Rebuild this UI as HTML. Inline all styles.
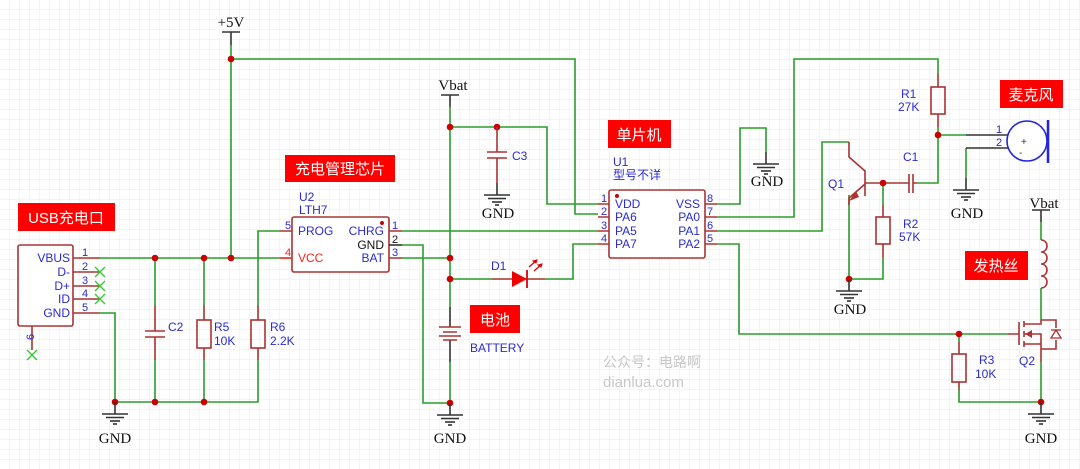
<!DOCTYPE html>
<html><head><meta charset="utf-8"><style>
html,body{margin:0;padding:0;background:#fff}
svg{display:block}
.w{stroke:#2a9d2a;stroke-width:1.6;fill:none}
.c{stroke:#a33;stroke-width:1.6;fill:none}
.k{stroke:#333;stroke-width:1.6;fill:none}
.t{font-family:"Liberation Sans",sans-serif;font-size:12px;fill:#2b2bd0}
.n{font-family:"Liberation Sans",sans-serif;font-size:11px;fill:#2b2bd0}
.s{font-family:"Liberation Serif",serif;font-size:15px;fill:#111}
.lb{font-family:"Liberation Sans","Noto Sans CJK SC",sans-serif;font-size:15px;fill:#fff}
.d{fill:#c00}
.lr{fill:#f00}
</style></head><body>
<svg width="1080" height="469" viewBox="0 0 1080 469" xmlns="http://www.w3.org/2000/svg">
<defs>
<pattern id="g" width="10" height="10" patternUnits="userSpaceOnUse"><path d="M10 0V10H0" fill="none" stroke="#eaeaea" stroke-width="1"/></pattern>
<g id="gnd"><line class="k" x1="0" y1="0" x2="0" y2="12"/><line class="k" x1="-13" y1="12" x2="13" y2="12"/><line class="k" x1="-9" y1="15.5" x2="9" y2="15.5"/><line class="k" x1="-5" y1="19" x2="5" y2="19"/><line class="k" x1="-2" y1="22" x2="2" y2="22" stroke-width="1"/></g>
</defs>
<rect width="1080" height="469" fill="url(#g)"/>

<rect class="lr" x="18" y="203" width="97" height="28"/><text class="lb" x="66" y="223" text-anchor="middle">USB充电口</text>
<rect class="lr" x="285" y="155" width="110" height="27"/><text class="lb" x="340" y="174" text-anchor="middle">充电管理芯片</text>
<rect class="lr" x="608" y="120" width="63" height="28"/><text class="lb" x="639" y="140" text-anchor="middle">单片机</text>
<rect class="lr" x="470" y="305" width="50" height="28"/><text class="lb" x="495" y="325" text-anchor="middle">电池</text>
<rect class="lr" x="1000" y="80" width="63" height="28"/><text class="lb" x="1031" y="100" text-anchor="middle">麦克风</text>
<rect class="lr" x="965" y="251" width="63" height="29"/><text class="lb" x="996" y="271" text-anchor="middle">发热丝</text>

<text class="s" x="231" y="27" text-anchor="middle">+5V</text>
<line class="k" x1="222" y1="32" x2="240" y2="32"/><line class="k" x1="231" y1="32" x2="231" y2="45"/>
<path class="w" d="M231 45V258M231 59H575V214H598"/>

<rect x="18" y="245" width="55" height="81" rx="2" fill="#fff" stroke="#a33" stroke-width="1.6"/>
<text class="t" x="70" y="262" text-anchor="end">VBUS</text>
<text class="t" x="70" y="276" text-anchor="end">D-</text>
<text class="t" x="70" y="290" text-anchor="end">D+</text>
<text class="t" x="70" y="303" text-anchor="end">ID</text>
<text class="t" x="70" y="317" text-anchor="end">GND</text>
<path class="c" d="M73 258H100M73 272H100M73 286H100M73 299H100M73 313H100M32 326V350"/>
<text class="n" x="82" y="256">1</text><text class="n" x="82" y="270">2</text><text class="n" x="82" y="284">3</text><text class="n" x="82" y="297">4</text><text class="n" x="82" y="311">5</text>
<text class="n" x="0" y="0" transform="translate(34,340) rotate(-90)">6</text>
<path d="M95 267l10 10M105 267l-10 10M95 281l10 10M105 281l-10 10M95 294l10 10M105 294l-10 10M27 350l10 10M37 350l-10 10" stroke="#3c3" stroke-width="1.4" fill="none"/>

<path class="w" d="M100 258H292M100 313H115V402H258V360M258 305V231H280"/>
<path class="w" d="M155 258V305M155 360V402M204 258V305M204 360V402"/>
<path class="c" d="M155 305V331M155 337V360M145 331H165M145 337H165"/>
<text class="t" x="168" y="331">C2</text>
<path class="c" d="M204 305V320M204 348V360M258 305V320M258 348V360"/>
<rect x="197" y="320" width="14" height="28" fill="none" stroke="#a33" stroke-width="1.6"/>
<rect x="251" y="320" width="14" height="28" fill="none" stroke="#a33" stroke-width="1.6"/>
<text class="t" x="214" y="331">R5</text><text class="t" x="214" y="345">10K</text>
<text class="t" x="270" y="331">R6</text><text class="t" x="270" y="345">2.2K</text>
<circle class="d" cx="155" cy="258" r="3.3"/><circle class="d" cx="204" cy="258" r="3.3"/><circle class="d" cx="231" cy="258" r="3.3"/><circle class="d" cx="231" cy="59" r="3.3"/>
<circle class="d" cx="115" cy="402" r="3.3"/><circle class="d" cx="155" cy="402" r="3.3"/><circle class="d" cx="204" cy="402" r="3.3"/>
<use href="#gnd" x="115" y="402"/><text class="s" x="115" y="443" text-anchor="middle">GND</text>

<text class="t" x="299" y="201">U2</text><text class="t" x="299" y="214">LTH7</text>
<rect x="292" y="217" width="97" height="55" rx="2" fill="#fff" stroke="#a33" stroke-width="1.6"/>
<circle class="d" cx="382" cy="223" r="2"/>
<path class="c" d="M280 231H292M389 231H402M389 258H402"/><path d="M280 258H292" stroke="#f33" stroke-width="1.6"/><path class="k" d="M389 245H402"/>
<text class="t" x="298" y="235">PROG</text><text x="298" y="262" font-family="Liberation Sans,sans-serif" font-size="12" fill="#f22">VCC</text>
<text class="t" x="384" y="235" text-anchor="end">CHRG</text><text x="384" y="249" text-anchor="end" font-family="Liberation Sans,sans-serif" font-size="12" fill="#111">GND</text><text class="t" x="384" y="262" text-anchor="end">BAT</text>
<text class="n" x="285" y="229">5</text><text x="285" y="256" font-family="Liberation Sans,sans-serif" font-size="11" fill="#f22">4</text>
<text class="n" x="392" y="229">1</text><text x="392" y="243" font-family="Liberation Sans,sans-serif" font-size="11" fill="#111">2</text><text class="n" x="392" y="256">3</text>

<path class="w" d="M402 231H598M402 245H423V403H450M402 258H450"/>

<text class="s" x="453" y="90" text-anchor="middle">Vbat</text>
<line class="k" x1="441" y1="95" x2="459" y2="95"/><line class="k" x1="450" y1="95" x2="450" y2="107"/>
<path class="w" d="M450 107V307M450 362V403M450 127H547V204H598M450 279H492M545 279H573V244H598"/>
<path class="k" d="M450 307V327M450 340V362"/>
<path class="c" d="M439 327H461M443 332H457M439 336H461M443 340H457"/>
<text class="t" x="470" y="352">BATTERY</text>
<circle class="d" cx="450" cy="127" r="3.3"/><circle class="d" cx="497" cy="127" r="3.3"/><circle class="d" cx="450" cy="258" r="3.3"/><circle class="d" cx="450" cy="279" r="3.3"/><circle class="d" cx="450" cy="403" r="3.3"/>
<use href="#gnd" x="450" y="403"/><text class="s" x="450" y="443" text-anchor="middle">GND</text>
<path class="c" d="M497 127V152M497 158V183M487 152H507M487 158H507"/>
<text class="t" x="512" y="160">C3</text>
<use href="#gnd" x="497" y="183"/><text class="s" x="498" y="218" text-anchor="middle">GND</text>
<path class="c" d="M492 279H512M527 279H545"/>
<path d="M512 271L527 279L512 287Z" fill="#e00"/><line x1="527" y1="270" x2="527" y2="288" stroke="#d00" stroke-width="1.8"/>
<path d="M529 267l8 -7M534 271l8 -7" stroke="#d00" stroke-width="1.3"/><path d="M537 260l-4 1l3 2zM542 264l-4 1l3 2z" fill="#d00" stroke="#d00"/>
<text class="t" x="491" y="270">D1</text>

<text class="t" x="613" y="166">U1</text><text x="613" y="179" font-family="Liberation Sans,'Noto Sans CJK SC',sans-serif" font-size="12" fill="#2b2bd0">型号不详</text>
<rect x="609" y="190" width="96" height="68" rx="2" fill="#fff" stroke="#a33" stroke-width="1.6"/>
<circle class="d" cx="617" cy="196" r="2"/>
<path class="c" d="M598 204H609M598 217H609M598 231H609M598 244H609M705 204H717M705 217H717M705 231H717M705 244H717"/>
<text class="t" x="615" y="208">VDD</text><text class="t" x="615" y="221">PA6</text><text class="t" x="615" y="235">PA5</text><text class="t" x="615" y="248">PA7</text>
<text class="t" x="700" y="208" text-anchor="end">VSS</text><text class="t" x="700" y="221" text-anchor="end">PA0</text><text class="t" x="700" y="235" text-anchor="end">PA1</text><text class="t" x="700" y="248" text-anchor="end">PA2</text>
<text class="n" x="601" y="202">1</text><text class="n" x="601" y="215">2</text><text class="n" x="601" y="229">3</text><text class="n" x="601" y="242">4</text>
<text class="n" x="707" y="202">8</text><text class="n" x="707" y="215">7</text><text class="n" x="707" y="229">6</text><text class="n" x="707" y="242">5</text>

<path class="w" d="M717 204H740V128H766V152M717 217H794V59H938V73M717 231H822V142H849M717 244H739V334H1008M938 127V183H917M966 148V178"/>
<path class="w" d="M938 135H966M849 195V279H883V258M883 183V205"/>
<use href="#gnd" x="766" y="152"/><text class="s" x="767" y="186" text-anchor="middle">GND</text>
<path class="c" d="M938 73V87M938 114V127"/><rect x="931" y="87" width="14" height="27" fill="none" stroke="#a33" stroke-width="1.6"/>
<text class="t" x="901" y="98">R1</text><text class="t" x="898" y="111">27K</text>
<circle class="d" cx="938" cy="135" r="3.3"/>
<path class="k" d="M966 135H1008M966 148H1008"/>
<text class="n" x="996" y="133" fill="#333">1</text><text class="n" x="996" y="146" fill="#333">2</text>
<circle cx="1027" cy="141" r="20" fill="#fff" stroke="#2323e0" stroke-width="1.6"/>
<line x1="1048" y1="120" x2="1048" y2="163" stroke="#2323e0" stroke-width="2.5"/>
<text x="1021" y="145" font-family="Liberation Sans,sans-serif" font-size="10" fill="#333">+</text><text x="1019" y="156" font-family="Liberation Sans,sans-serif" font-size="10" fill="#333">-</text>
<use href="#gnd" x="966" y="178"/><text class="s" x="967" y="218" text-anchor="middle">GND</text>
<path class="c" d="M917 183H913M909 183H883M913 174V193M909 174V193"/>
<text class="t" x="903" y="161">C1</text>
<path class="c" d="M849 142V157L865 171M865 170V196M865 183H883M865 184L849 198V205"/>
<path d="M849 201L856 191L859 197Z" fill="#a33"/>
<text class="t" x="828" y="188">Q1</text>
<circle class="d" cx="883" cy="183" r="3.3"/>
<path class="c" d="M883 205V217M883 244V258"/><rect x="876" y="217" width="14" height="27" fill="none" stroke="#a33" stroke-width="1.6"/>
<text class="t" x="903" y="228">R2</text><text class="t" x="899" y="241">57K</text>
<circle class="d" cx="849" cy="279" r="3.3"/>
<use href="#gnd" x="849" y="279"/><text class="s" x="850" y="314" text-anchor="middle">GND</text>

<text class="s" x="1044" y="208" text-anchor="middle">Vbat</text>
<line class="k" x1="1032" y1="210" x2="1050" y2="210"/><line class="k" x1="1041" y1="210" x2="1041" y2="222"/>
<path class="w" d="M1041 222V240M1041 288V320"/>
<path class="c" d="M1041 240c8 0 8 12 0 12c8 0 8 12 0 12c8 0 8 12 0 12c8 0 8 12 0 12"/>
<path class="c" d="M1008 334H1019M1019 322V345M1024 321V327M1024 331V337M1024 341V347M1024 324H1041V320M1024 344H1041V362M1024 334H1041V344M1041 320H1056V328M1056 340V349H1041"/>
<path d="M1025 334L1032 330V338Z" fill="#a33"/>
<path d="M1051 338L1061 338L1056 330Z" fill="none" stroke="#a33" stroke-width="1.3"/><line x1="1051" y1="330" x2="1061" y2="330" stroke="#a33" stroke-width="1.3"/>
<text class="t" x="1019" y="365">Q2</text>
<path class="w" d="M1041 362V402M959 334V342M959 390V402H1041"/>
<path class="c" d="M959 342V354M959 382V390"/><rect x="952" y="354" width="14" height="28" fill="none" stroke="#a33" stroke-width="1.6"/>
<text class="t" x="979" y="364">R3</text><text class="t" x="975" y="378">10K</text>
<circle class="d" cx="959" cy="334" r="3.3"/><circle class="d" cx="1041" cy="402" r="3.3"/>
<use href="#gnd" x="1041" y="402"/><text class="s" x="1041" y="443" text-anchor="middle">GND</text>

<text x="603" y="367" font-family="Liberation Sans,'Noto Sans CJK SC',sans-serif" font-size="14" fill="#c8c8c8">公众号：电路啊</text>
<text x="603" y="387" font-family="Liberation Sans,sans-serif" font-size="15" fill="#c8c8c8">dianlua.com</text>
</svg>
</body></html>
